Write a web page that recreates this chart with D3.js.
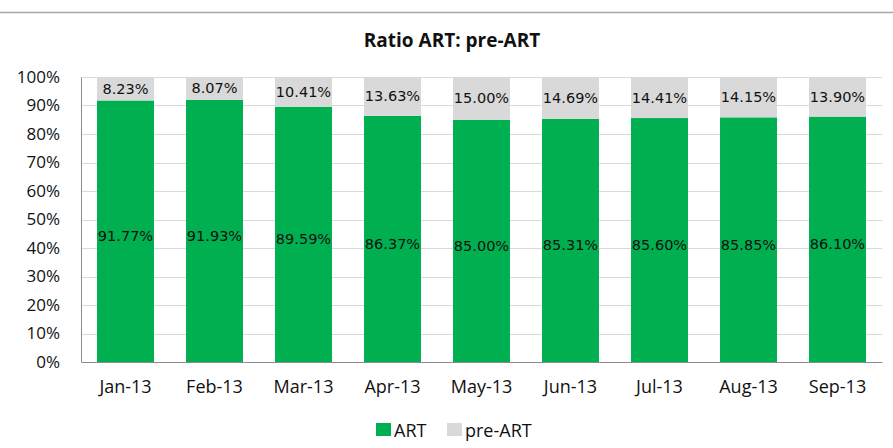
<!DOCTYPE html>
<html>
<head>
<meta charset="utf-8">
<script src="https://cdn.jsdelivr.net/npm/d3@7"></script>
<style>
  html, body { margin: 0; padding: 0; background: #fff; }
  svg { display: block; }
</style>
</head>
<body>
<svg id="chart" width="893" height="448"></svg>
<script>
const categories = ["Jan-13", "Feb-13", "Mar-13", "Apr-13", "May-13", "Jun-13", "Jul-13", "Aug-13", "Sep-13"];
const artValues = [91.77, 91.93, 89.59, 86.37, 85.00, 85.31, 85.60, 85.85, 86.10];
const preArtValues = [8.23, 8.07, 10.41, 13.63, 15.00, 14.69, 14.41, 14.15, 13.90];
const yTicks = [0, 10, 20, 30, 40, 50, 60, 70, 80, 90, 100];
const seriesNames = ["ART", "pre-ART"];
const seriesColors = ["#00b050", "#d9d9d9"];

const svg = d3.select("#chart");
const W = 893, H = 448;
const m = { left: 81, right: 11, top: 77, bottom: 86 };

// top border line
svg.append("line")
  .attr("x1", 0).attr("x2", W).attr("y1", 12.5).attr("y2", 12.5)
  .attr("stroke", "#a6a6a6").attr("stroke-width", 1.3);

svg.append("text")
  .attr("x", 452).attr("y", 47)
  .attr("text-anchor", "middle")
  .attr("font-family", "Open Sans")
  .attr("font-weight", "bold")
  .attr("font-size", 19)
  .attr("fill", "#111")
  .text("Ratio ART: pre-ART");

const x = d3.scaleBand().domain(categories).range([m.left, W - m.right]).paddingInner(0.36).paddingOuter(0.18);
const y = d3.scaleLinear().domain([0, 100]).range([H - m.bottom, m.top]);

// gridlines
svg.append("g").selectAll("line").data(yTicks.filter(d => d > 0)).join("line")
  .attr("x1", m.left).attr("x2", W - m.right)
  .attr("y1", d => Math.round(y(d)) + 0.5).attr("y2", d => Math.round(y(d)) + 0.5)
  .attr("stroke", "#d9d9d9").attr("stroke-width", 1);

const rows = categories.map((c, i) => ({ cat: c, ART: artValues[i], "pre-ART": preArtValues[i] }));
const stacked = d3.stack().keys(seriesNames)(rows);

svg.append("g").selectAll("g").data(stacked).join("g")
  .attr("fill", (d, i) => seriesColors[i])
  .selectAll("rect").data(d => d).join("rect")
  .attr("x", d => x(d.data.cat))
  .attr("width", x.bandwidth())
  .attr("y", d => y(d[1]))
  .attr("height", d => y(d[0]) - y(d[1]));

// data labels
const labelFont = "DejaVu Sans";
svg.append("g").selectAll("text").data(rows).join("text")
  .attr("x", d => x(d.cat) + x.bandwidth() / 2)
  .attr("y", d => y(d.ART / 2) + 5)
  .attr("text-anchor", "middle")
  .attr("dominant-baseline", "central")
  .attr("font-family", labelFont).attr("font-size", 14.5).attr("fill", "#111")
  .text(d => d.ART.toFixed(2) + "%");

svg.append("g").selectAll("text").data(rows).join("text")
  .attr("x", d => x(d.cat) + x.bandwidth() / 2)
  .attr("y", d => y(d.ART + d["pre-ART"] / 2))
  .attr("text-anchor", "middle")
  .attr("dominant-baseline", "central")
  .attr("font-family", labelFont).attr("font-size", 14.5).attr("fill", "#111")
  .text(d => d["pre-ART"].toFixed(2) + "%");

// axes
const yAxis = svg.append("g").attr("transform", `translate(${m.left},0)`)
  .call(d3.axisLeft(y).tickValues(yTicks).tickFormat(d => d + "%").tickSize(0).tickPadding(21));
yAxis.select(".domain").attr("stroke", "#8c8c8c");
yAxis.selectAll("text").attr("font-family", "Open Sans").attr("font-size", 17).attr("fill", "#111");

const xAxis = svg.append("g").attr("transform", `translate(0,${H - m.bottom})`)
  .call(d3.axisBottom(x).tickSize(0).tickPadding(18));
xAxis.select(".domain").attr("stroke", "#8c8c8c");
xAxis.selectAll("text").attr("font-family", "Open Sans").attr("font-size", 18).attr("fill", "#111");

// legend
const legend = svg.append("g");
const legendItems = [
  { name: seriesNames[0], color: seriesColors[0], x: 376 },
  { name: seriesNames[1], color: seriesColors[1], x: 447 }
];
legendItems.forEach(it => {
  legend.append("rect").attr("x", it.x).attr("y", 423).attr("width", 15).attr("height", 13).attr("fill", it.color);
  legend.append("text").attr("x", it.x + 18).attr("y", 430)
    .attr("dominant-baseline", "central")
    .attr("font-family", "Open Sans").attr("font-size", 18).attr("fill", "#111")
    .text(it.name);
});
</script>
</body>
</html>
